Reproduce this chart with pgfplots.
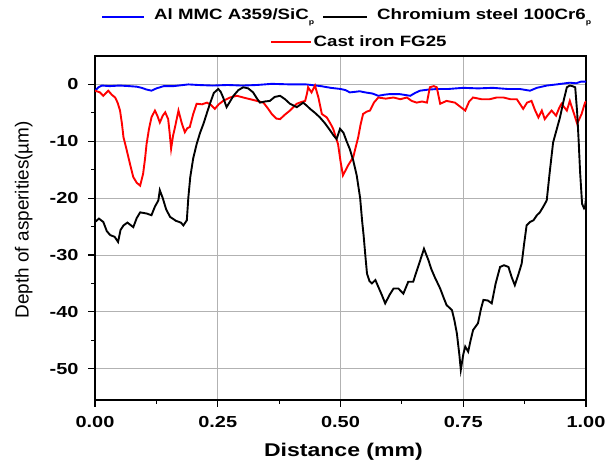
\documentclass[border=0pt]{standalone}
\usepackage{fontspec}
\setmainfont{Liberation Sans}[FakeStretch=1.25]
\newfontfamily\yfont{Liberation Sans}
\usepackage{pgfplots}
\pgfplotsset{compat=1.18}

\begin{document}
\begin{tikzpicture}[x=1bp,y=1bp]
\path[use as bounding box] (0,0) rectangle (607,469);
\pgfplotsset{
  common/.style={
    at={(95bp,69bp)}, anchor=south west,
    scale only axis, width=491bp, height=344bp,
    xmin=0, xmax=1, ymin=-55.5, ymax=5,
    legend style={draw=none, fill=none,
      font=\fontsize{15}{17}\selectfont\bfseries,
      nodes={inner sep=1.5bp}},
    legend image code/.code={\draw[##1] (0bp,0bp) -- (40bp,0bp);},
  },
}
\begin{axis}[
  common,
  axis line style={black, line width=1.2pt},
  tick style={black, line width=1.2pt},
  tick align=outside,
  xtick pos=bottom, ytick pos=left,
  major tick length=7bp, minor tick length=4bp,
  xtick={0,0.25,0.5,0.75,1}, minor x tick num=1,
  ytick={-50,-40,-30,-20,-10,0}, minor y tick num=1,
  grid=major,
  major grid style={gray!60, line width=0.8pt},
  ticklabel style={font=\fontsize{16}{16}\selectfont\bfseries},
  /pgf/number format/assume math mode=true,
  xticklabel style={/pgf/number format/.cd, fixed, fixed zerofill, precision=2,
    /tikz/.cd, yshift=-6bp},
  yticklabel style={xshift=-6bp},
  xlabel={Distance (mm)},
  ylabel={\yfont Depth of asperities(µm)},
  xlabel style={font=\fontsize{18.5}{18.5}\selectfont\bfseries,
    at={(axis description cs:0.506,-0.151)}, anchor=center},
  ylabel style={font=\fontsize{19}{19}\selectfont,
    at={(axis description cs:-0.145,0.524)}, anchor=center, rotate=0},
]
% Al MMC
\addplot[blue, line width=1.9pt] coordinates {
(0,-1.1) (0.007,-0.5) (0.014,-0.2) (0.03,-0.3) (0.05,-0.2) (0.07,-0.3) (0.085,-0.4)
(0.095,-0.6) (0.105,-0.9) (0.115,-1.1) (0.125,-0.7) (0.14,-0.3) (0.16,-0.3) (0.19,0)
(0.21,-0.1) (0.24,-0.2) (0.27,-0.1) (0.3,-0.2) (0.33,-0.1) (0.36,0.1) (0.4,0)
(0.43,0) (0.46,-0.3) (0.48,-0.6) (0.5,-0.8) (0.51,-1.0) (0.519,-1.4) (0.53,-1.3)
(0.539,-1.2) (0.55,-1.4) (0.565,-1.6) (0.577,-2.0) (0.59,-1.8) (0.6,-1.7) (0.62,-1.7)
(0.642,-2.0) (0.652,-1.5) (0.662,-1.1) (0.68,-0.9) (0.70,-0.8) (0.72,-0.8) (0.75,-0.6)
(0.78,-0.7) (0.81,-0.6) (0.84,-0.8) (0.865,-0.8) (0.886,-1.1) (0.90,-0.6) (0.92,-0.2)
(0.94,0) (0.967,0.3) (0.98,0.2) (0.99,0.5) (1.0,0.5)
};
% Cast iron FG25
\addplot[red, line width=1.9pt] coordinates {
(0,-1.1) (0.010,-1.4) (0.017,-2.0) (0.027,-1.1) (0.034,-1.8) (0.041,-2.3) (0.046,-3.2)
(0.051,-4.6) (0.055,-7.0) (0.058,-9.3) (0.063,-11.0) (0.068,-12.8) (0.073,-14.6)
(0.078,-16.3) (0.085,-17.3) (0.092,-17.8) (0.098,-15.7) (0.102,-13.0) (0.105,-10.5)
(0.110,-7.8) (0.115,-5.8) (0.122,-4.6) (0.127,-5.5) (0.132,-6.7) (0.138,-5.5)
(0.143,-4.9) (0.149,-6.1) (0.152,-8.5) (0.155,-11.3) (0.159,-9.0) (0.163,-7.5)
(0.170,-4.6) (0.177,-6.9) (0.183,-8.4) (0.188,-7.7) (0.193,-7.5) (0.200,-5.2)
(0.207,-3.4) (0.218,-3.5) (0.228,-3.2) (0.236,-3.6) (0.244,-4.3) (0.252,-3.5)
(0.261,-2.9) (0.275,-2.3) (0.289,-2.0) (0.302,-2.3) (0.316,-2.6) (0.330,-2.9)
(0.343,-3.2) (0.352,-4.2) (0.360,-5.2) (0.369,-6.0) (0.377,-6.1) (0.387,-5.3)
(0.397,-4.6) (0.411,-3.4) (0.420,-3.1) (0.428,-2.9) (0.432,-1.5) (0.434,-0.5)
(0.441,-1.4) (0.448,-0.2) (0.455,-2.3) (0.462,-5.2) (0.472,-5.8) (0.479,-6.8)
(0.485,-7.8) (0.495,-10.5) (0.500,-13.5) (0.505,-16.0) (0.515,-14.3) (0.520,-13.6)
(0.526,-12.8) (0.531,-11.0) (0.536,-9.3) (0.541,-7.0) (0.546,-5.2) (0.553,-4.8)
(0.560,-4.6) (0.568,-3.2) (0.577,-2.3) (0.592,-2.5) (0.608,-2.3) (0.622,-2.6)
(0.635,-2.3) (0.645,-2.9) (0.655,-3.2) (0.666,-3.0) (0.676,-3.2) (0.682,-0.5)
(0.690,-0.3) (0.696,-0.5) (0.703,-3.4) (0.716,-2.9) (0.733,-3.2) (0.745,-4.0)
(0.754,-4.6) (0.762,-3.0) (0.770,-2.3) (0.787,-2.6) (0.804,-2.6) (0.818,-2.3)
(0.832,-2.3) (0.846,-2.6) (0.859,-2.6) (0.866,-3.5) (0.872,-4.3) (0.880,-3.2)
(0.889,-2.9) (0.896,-4.5) (0.903,-5.8) (0.910,-4.6) (0.916,-6.1) (0.923,-5.3)
(0.930,-4.6) (0.939,-5.5) (0.945,-4.2) (0.950,-3.4) (0.961,-4.6) (0.967,-2.9)
(0.975,-5.0) (0.982,-6.9) (0.991,-5.2) (0.998,-3.2) (1.0,-3.0)
};
% Chromium steel
\addplot[black, line width=1.9pt] coordinates {
(0,-24.2) (0.008,-23.6) (0.017,-24.2) (0.024,-25.8) (0.031,-26.5) (0.040,-26.8)
(0.047,-27.7) (0.052,-25.6) (0.058,-24.8) (0.066,-24.3) (0.078,-25.1) (0.085,-23.5)
(0.092,-22.5) (0.105,-22.7) (0.115,-23.0) (0.122,-21.5) (0.129,-20.4) (0.132,-18.6)
(0.138,-20.0) (0.145,-22.0) (0.153,-23.3) (0.165,-24.0) (0.175,-24.3) (0.180,-24.8)
(0.187,-23.9) (0.190,-20.0) (0.194,-16.3) (0.200,-13.0) (0.207,-10.5) (0.214,-8.5)
(0.221,-6.9) (0.228,-5.0) (0.234,-3.4) (0.242,-1.5) (0.251,-0.8) (0.256,-1.3)
(0.261,-2.3) (0.268,-4.0) (0.275,-3.0) (0.282,-2.0) (0.292,-1.0) (0.302,-0.5)
(0.312,-0.7) (0.322,-1.4) (0.330,-2.5) (0.336,-3.2) (0.346,-3.0) (0.356,-2.9)
(0.366,-2.2) (0.377,-2.0) (0.387,-2.6) (0.397,-3.4) (0.411,-4.0) (0.424,-3.2)
(0.432,-3.8) (0.438,-4.3) (0.448,-5.0) (0.458,-5.8) (0.468,-6.8) (0.479,-8.1)
(0.486,-9.0) (0.492,-9.6) (0.499,-7.8) (0.506,-8.5) (0.512,-9.9) (0.519,-11.4)
(0.526,-13.4) (0.533,-16.0) (0.540,-20.0) (0.544,-24.0) (0.547,-26.5) (0.551,-30.5)
(0.554,-33.3) (0.559,-34.6) (0.564,-35.0) (0.571,-34.4) (0.577,-35.6) (0.584,-37.0)
(0.591,-38.5) (0.600,-37.0) (0.608,-35.9) (0.618,-35.9) (0.628,-36.8) (0.638,-34.7)
(0.648,-34.7) (0.658,-32.1) (0.664,-30.5) (0.670,-28.9) (0.679,-30.9) (0.685,-32.5)
(0.692,-33.9) (0.703,-35.9) (0.710,-37.5) (0.716,-38.8) (0.727,-39.7) (0.732,-41.5)
(0.737,-43.8) (0.742,-47.5) (0.745,-50.2) (0.750,-47.5) (0.754,-46.1) (0.760,-47.0)
(0.765,-45.0) (0.770,-43.2) (0.780,-42.0) (0.786,-39.5) (0.791,-37.9) (0.800,-38.0)
(0.808,-38.5) (0.816,-35.0) (0.825,-32.1) (0.833,-31.8) (0.842,-32.1) (0.849,-34.0)
(0.855,-35.3) (0.862,-33.5) (0.869,-31.5) (0.874,-28.0) (0.879,-24.8) (0.886,-24.2)
(0.893,-23.9) (0.900,-23.0) (0.906,-22.5) (0.913,-21.5) (0.920,-20.4) (0.926,-15.5)
(0.933,-10.2) (0.940,-8.0) (0.947,-5.8) (0.954,-3.0) (0.961,-0.5) (0.967,-0.2)
(0.972,-0.3) (0.978,-0.5) (0.982,-5.0) (0.985,-9.9) (0.988,-15.5) (0.992,-21.0)
(0.996,-21.8) (0.998,-21.6) (1.0,-20.0)
};
\end{axis}
% legend, second row
\begin{axis}[common, hide axis,
  legend style={at={(axis description cs:0.538,1.04)}, anchor=center}]
\addlegendimage{red, line width=1.9pt}
\addlegendentry{Cast iron FG25}
\end{axis}
% legend, first row
\draw[blue, line width=1.9pt] (102,452) -- (144,452);
\node[anchor=west, inner sep=0pt, font=\fontsize{15}{17}\selectfont\bfseries]
  at (154,452) {Al MMC A359/SiC\raisebox{-0.6ex}{\scriptsize p}};
\draw[black, line width=1.9pt] (323,452) -- (367,452);
\node[anchor=west, inner sep=0pt, font=\fontsize{15}{17}\selectfont\bfseries]
  at (377,452) {Chromium steel 100Cr6\raisebox{-0.6ex}{\scriptsize p}};
\end{tikzpicture}
\end{document}
